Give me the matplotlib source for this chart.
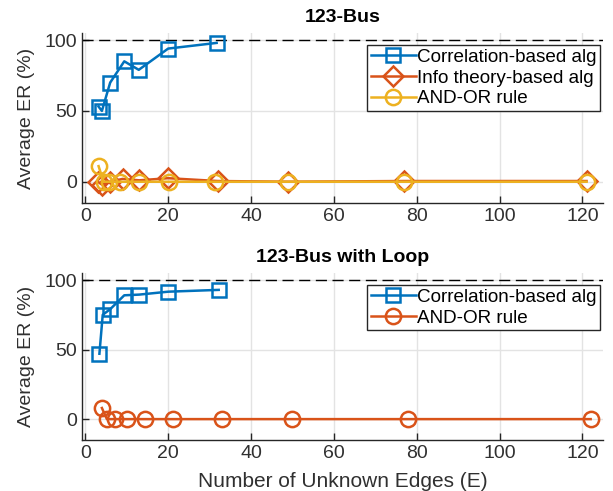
import matplotlib
matplotlib.use("Agg")
import matplotlib.pyplot as plt

plt.rcParams['font.family'] = ['Liberation Sans', 'DejaVu Sans']

# ---- data ----
x_corr_top = [3.2, 4.0, 6.0, 9.4, 12.9, 20.0, 31.7]
y_corr_top = [53, 50, 70, 85, 79, 94, 98]
x_info_top = [3, 4, 6, 9, 13, 20, 32, 49, 77, 121]
y_info_top = [0, -2, 0, 2, 1, 2.5, 0.5, 0, 0.5, 0.5]
x_andor_top = [3.2, 4.4, 5.6, 8.4, 12.9, 20.1, 31.4, 49, 77, 121]
y_andor_top = [11, 0, 0, 0, 0, 0, 0, 0, 0, 0]

x_corr_bot = [3.4, 4.2, 6.0, 9.4, 13.0, 20.0, 32.2]
y_corr_bot = [47, 75, 79, 89, 89.5, 91.6, 92.9]
x_andor_bot = [4, 5.2, 7.2, 10, 14.3, 21.2, 33.1, 50, 78, 122]
y_andor_bot = [8, 0, 0, 0, 0, 0, 0, 0, 0, 0]

xticks = [0, 20, 40, 60, 80, 100, 120]
yticks = [0, 50, 100]
titles = ["123-Bus", "123-Bus with Loop"]
ylabel = "Average ER (%)"
xlabel = "Number of Unknown Edges (E)"

C1, C2, C3 = '#0072BD', '#D95319', '#EDB120'
TXT = '#303030'

fig = plt.figure(figsize=(6.13, 4.91), dpi=100)
ax1 = fig.add_axes([0.1338, 0.5866, 0.85, 0.3462])
ax2 = fig.add_axes([0.1338, 0.1039, 0.85, 0.340])

def style(ax, title):
    ax.set_xlim(-0.8, 125)
    ax.set_ylim(-15, 105)
    ax.set_xticks(xticks)
    ax.set_yticks(yticks)
    ax.grid(True, color='#e3e3e3', linewidth=1)
    ax.set_axisbelow(True)
    for s in ['top', 'right']:
        ax.spines[s].set_visible(False)
    for s in ['left', 'bottom']:
        ax.spines[s].set_color('#262626')
        ax.spines[s].set_linewidth(1)
    ax.tick_params(direction='in', length=5, width=1, colors='#262626',
                   labelsize=14, labelcolor=TXT)
    ax.set_title(title, fontsize=14, fontweight='bold', pad=8)
    ax.set_ylabel(ylabel, fontsize=14, color=TXT, labelpad=7)
    ax.axhline(100, color='black', linestyle=(0, (8, 4)), linewidth=1, zorder=1)

style(ax1, titles[0])
style(ax2, titles[1])

ax1.plot(x_corr_top, y_corr_top, '-s', color=C1, mfc='none', ms=10, mew=1.8, lw=1.8,
         label='Correlation-based alg')
ax1.plot(x_info_top, y_info_top, '-D', color=C2, mfc='none', ms=10, mew=1.8, lw=1.8,
         label='Info theory-based alg')
ax1.plot(x_andor_top, y_andor_top, '-o', color=C3, mfc='none', ms=11, mew=1.8, lw=1.8,
         label='AND-OR rule')

ax2.plot(x_corr_bot, y_corr_bot, '-s', color=C1, mfc='none', ms=10, mew=1.8, lw=1.8,
         label='Correlation-based alg')
ax2.plot(x_andor_bot, y_andor_bot, '-o', color=C2, mfc='none', ms=11, mew=1.8, lw=1.8,
         label='AND-OR rule')
ax2.set_xlabel(xlabel, fontsize=15, color=TXT, labelpad=7)

for ax, h in [(ax1, 170), (ax2, 167)]:
    leg = ax.legend(loc='upper right', bbox_to_anchor=(1 - 3 / 521, 1 - 12 / h),
                    borderaxespad=0, fontsize=13.6, fancybox=False, framealpha=1,
                    edgecolor='#262626', handlelength=2.4, handletextpad=0.05,
                    borderpad=0.2, labelspacing=0.18)
    leg.get_frame().set_linewidth(1)

fig.savefig('out.png', dpi=100)
